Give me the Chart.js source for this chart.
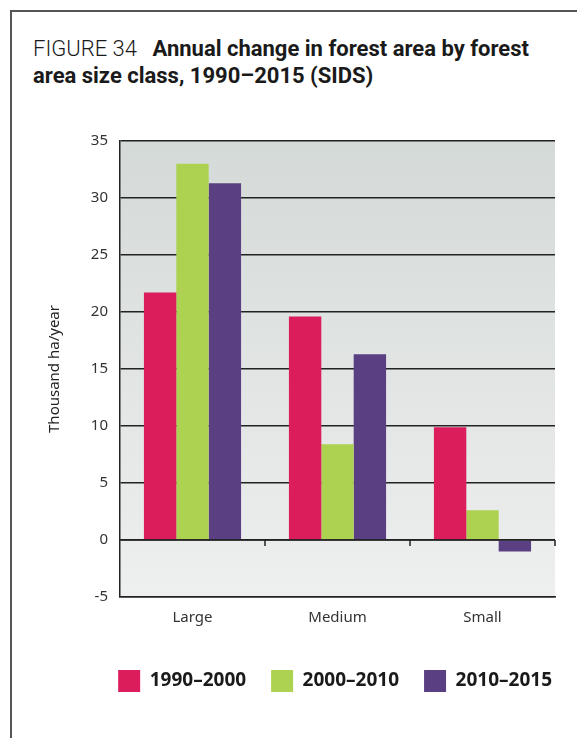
<!DOCTYPE html>
<html lang="en">
  <head>
    <meta charset="UTF-8" />
    <title>Annual change in forest area by forest area size class, 1990-2015 (SIDS)</title>
    <script src="https://cdn.jsdelivr.net/npm/chart.js@4"></script>
    <style>
      body { margin: 0; background: #fff; width: 577px; height: 738px; overflow: hidden; position: relative; }
      .frame { position: absolute; left: 10px; top: 10px; width: 600px; height: 760px; border-left: 2px solid #555; border-top: 2px solid #555; }
      h1 { position: absolute; left: 33px; top: 35px; margin: 0; width: 560px; white-space: nowrap; font-family: Roboto, sans-serif; font-size: 22px; line-height: 27px; color: #1a1a1a; font-weight: bold; }
      h1 span { font-weight: 300; margin-right: 10px; }
      .wrap { position: absolute; left: 20px; top: 120px; width: 557px; height: 600px; }
    </style>
  </head>
  <body>
    <div class="frame"></div>
    <h1><span>FIGURE 34</span> Annual change in forest area by forest<br>area size class, 1990–2015 (SIDS)</h1>
    <div class="wrap"><canvas id="myChart"></canvas></div>

    <script>
      const classes = ['Large', 'Medium', 'Small'];
      const periods = ['1990–2000', '2000–2010', '2010–2015'];
      const p1990 = [21.7, 19.6, 9.9];
      const p2000 = [33.0, 8.4, 2.6];
      const p2010 = [31.3, 16.3, -1.0];
      const colours = ['#db1d5c', '#add150', '#5b3f83'];

      // gradient panel behind the bars
      const panelBg = {
        id: 'panelBg',
        beforeDraw(chart) {
          const { ctx, chartArea: a } = chart;
          const g = ctx.createLinearGradient(0, a.top, 0, a.bottom);
          g.addColorStop(0, '#d4dad8');
          g.addColorStop(1, '#eeefef');
          ctx.save();
          ctx.fillStyle = g;
          ctx.fillRect(a.left, a.top, a.right - a.left, a.bottom - a.top);
          ctx.restore();
        }
      };

      // small tick marks on the zero line between categories
      const zeroTicks = {
        id: 'zeroTicks',
        afterDatasetsDraw(chart) {
          const { ctx, scales: { x, y } } = chart;
          const y0 = y.getPixelForValue(0);
          ctx.save();
          ctx.strokeStyle = '#222';
          ctx.lineWidth = 1.5;
          ctx.beginPath();
          ctx.moveTo(x.left, y0);
          ctx.lineTo(x.right, y0);
          for (let i = 0; i < classes.length; i++) {
            const px = i === classes.length - 1 ? x.right : (x.getPixelForValue(i) + x.getPixelForValue(i + 1)) / 2;
            ctx.moveTo(px, y0);
            ctx.lineTo(px, y0 + 6);
          }
          ctx.stroke();
          ctx.restore();
        }
      };

      window.addEventListener('load', setup);

      function setup() {
        const ctx = document.getElementById('myChart').getContext('2d');
        new Chart(ctx, {
          type: 'bar',
          data: {
            labels: classes,
            datasets: [p1990, p2000, p2010].map((d, i) => ({
              label: periods[i],
              data: d,
              backgroundColor: colours[i],
              barPercentage: 1,
              categoryPercentage: 0.67
            }))
          },
          options: {
            responsive: true,
            maintainAspectRatio: false,
            animation: false,
            layout: { padding: { top: 19, right: 0, bottom: 18 } },
            plugins: {
              tooltip: { enabled: false },
              legend: {
                position: 'bottom',
                align: 'end',
                labels: {
                  boxWidth: 22,
                  boxHeight: 22,
                  padding: 25,
                  color: '#1a1a1a',
                  font: { family: 'Noto Sans', size: 19, weight: 'bold' }
                }
              }
            },
            scales: {
              x: {
                grid: { display: false },
                border: { display: true, color: '#222', width: 1.5 },
                ticks: { color: '#333', padding: 4, font: { family: 'Noto Sans', size: 15 } },
                afterFit: s => { s.height = 48; }
              },
              y: {
                min: -5,
                max: 35,
                ticks: { stepSize: 5, color: '#333', padding: 12, font: { family: 'Noto Sans', size: 15 } },
                grid: { color: '#222', lineWidth: 1.5, drawTicks: false },
                border: { display: true, color: '#222', width: 1.5 },
                title: {
                  display: true,
                  text: 'Thousand ha/year',
                  color: '#222',
                  font: { family: 'Noto Sans', size: 15 },
                  padding: { top: 26, bottom: 0 }
                },
                afterFit: s => { s.width = 100; }
              },
              // empty right-hand spacer so the legend can reach past the plot
              yRight: {
                position: 'right',
                min: -5,
                max: 35,
                ticks: { display: false },
                grid: { display: false, drawOnChartArea: false },
                border: { display: false },
                afterFit: s => { s.width = 22; }
              }
            }
          },
          plugins: [panelBg, zeroTicks]
        });
      }
    </script>
  </body>
</html>
